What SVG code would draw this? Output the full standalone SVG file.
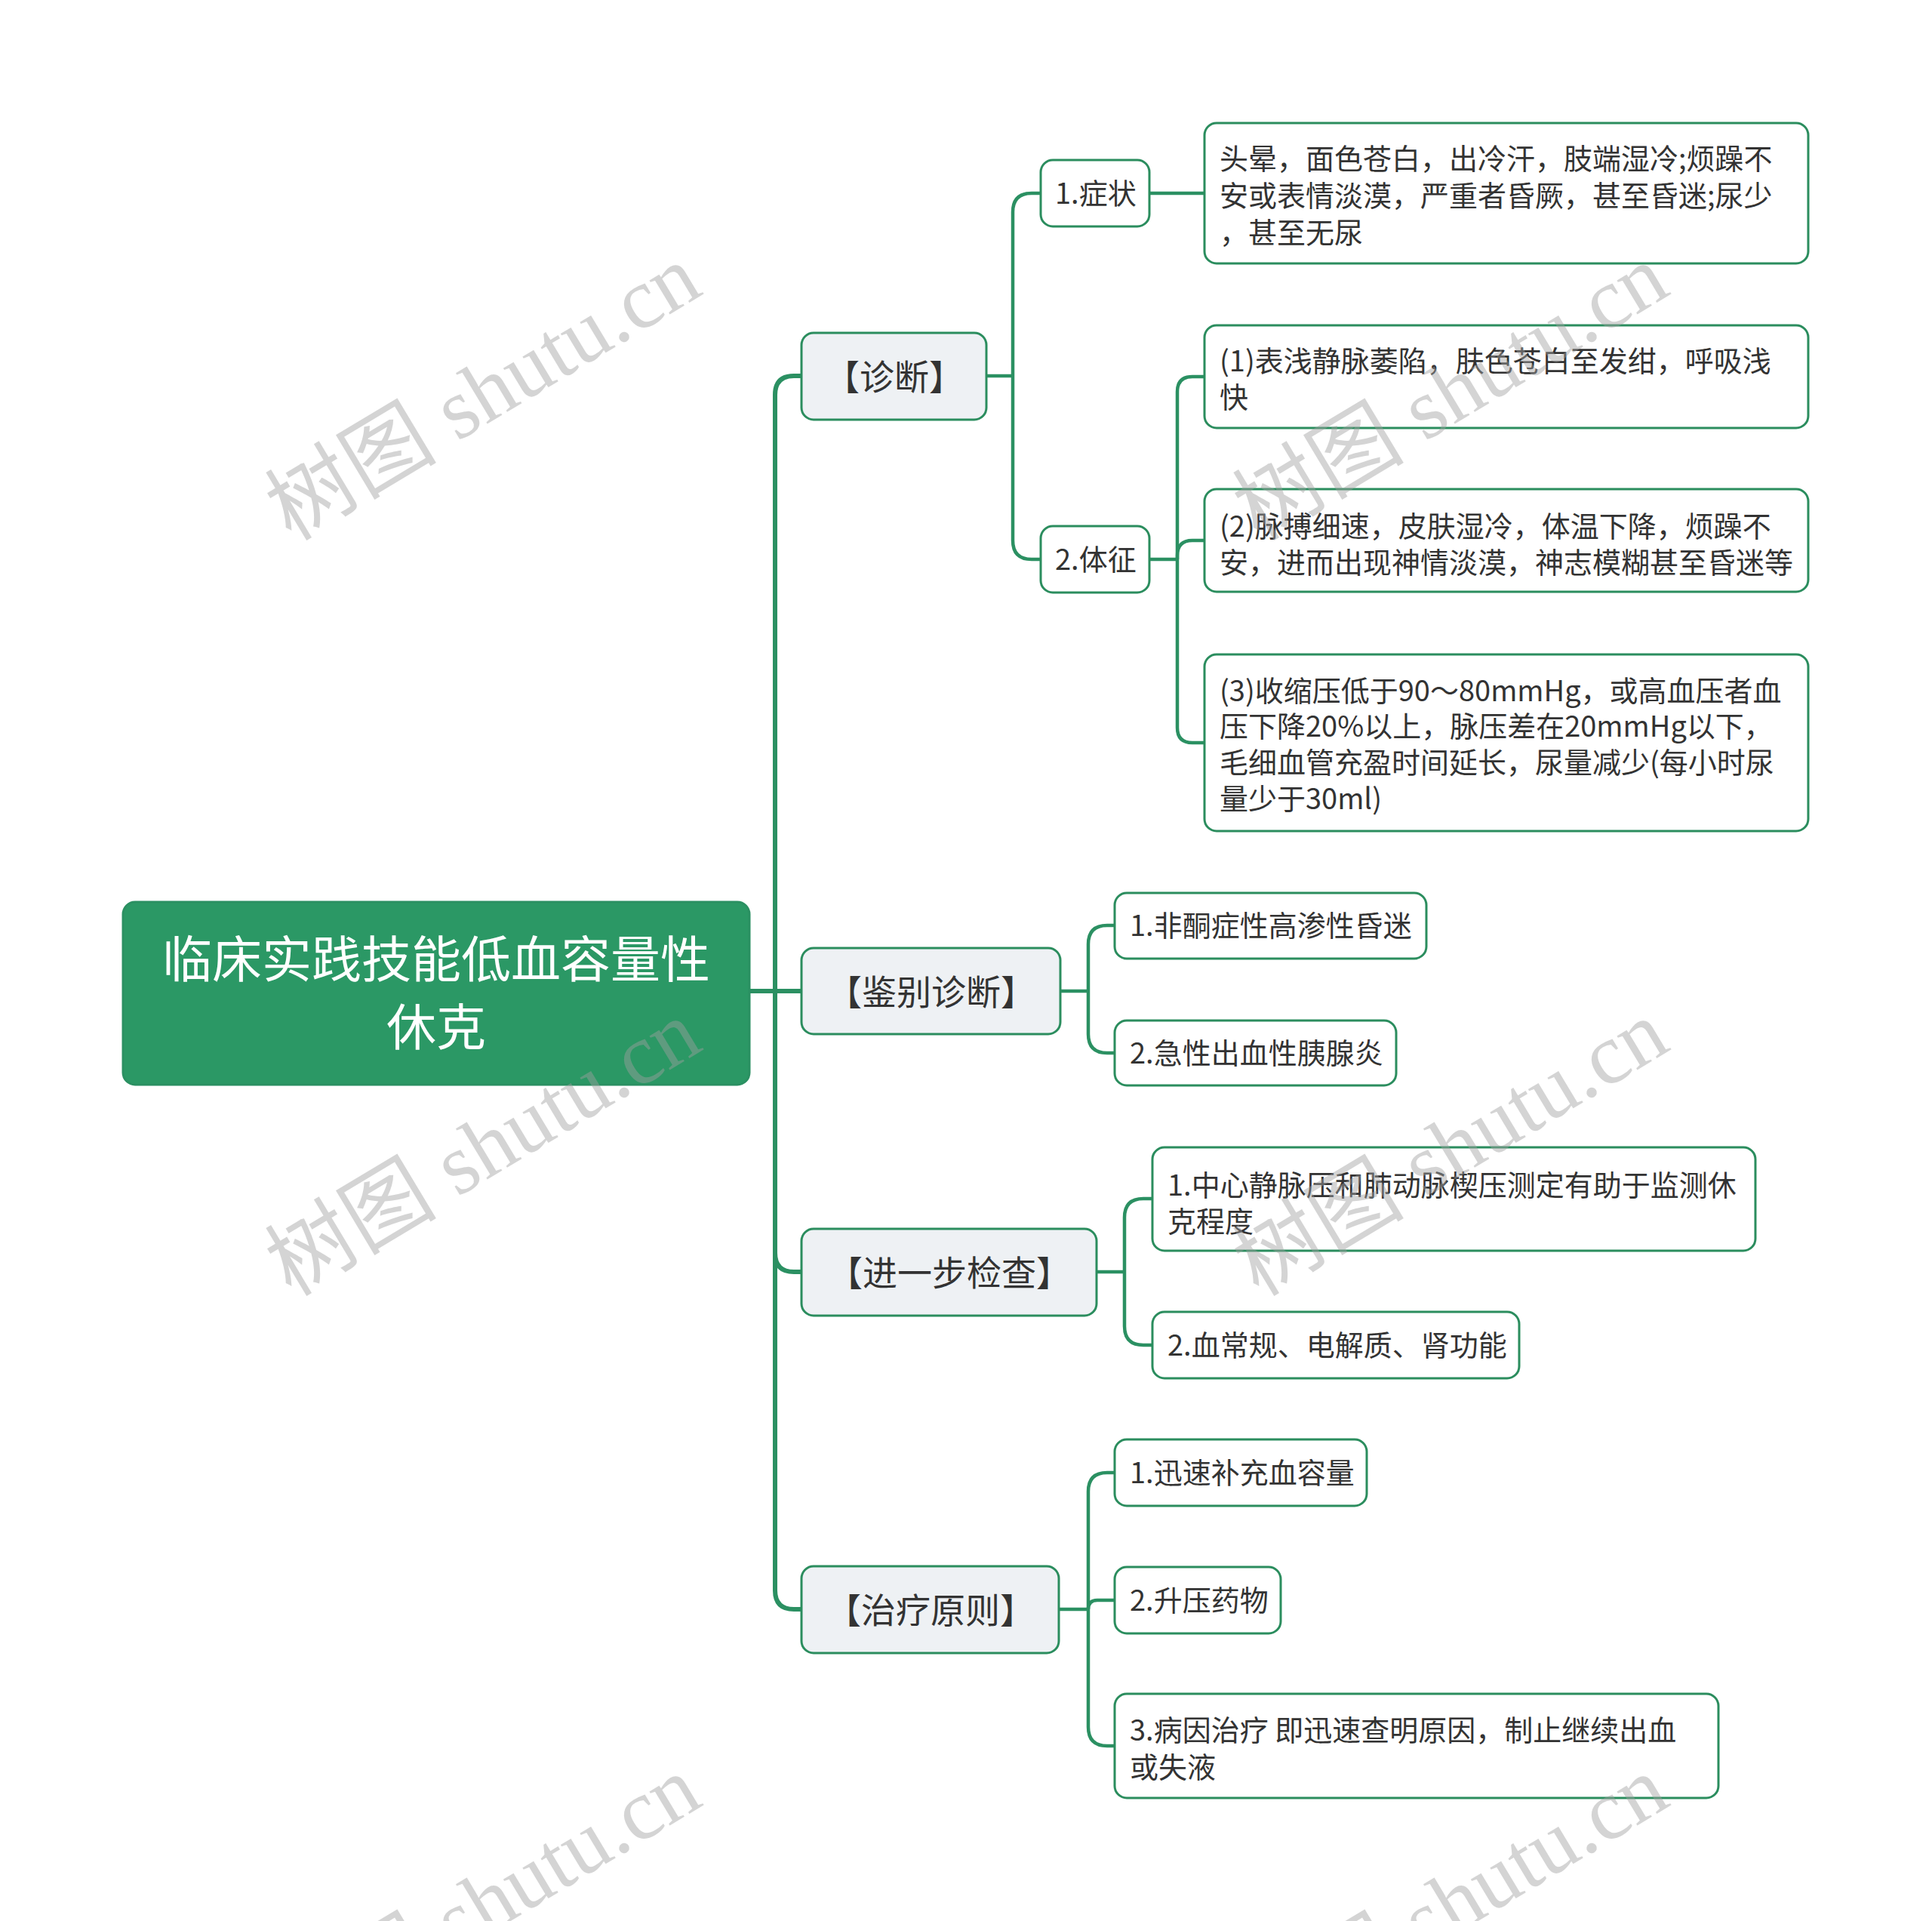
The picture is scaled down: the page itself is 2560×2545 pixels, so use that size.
<svg xmlns="http://www.w3.org/2000/svg" width="2560" height="2545" viewBox="0 0 2560 2545">
<style>
.root{fill:#2b9865;stroke:#2b9062;stroke-width:3}
.l1{fill:#eef1f4;stroke:#2b8d5e;stroke-width:3}
.lf{fill:#ffffff;stroke:#2b8d5e;stroke-width:3}
.t{font-family:"Noto Sans CJK SC","Noto Sans",sans-serif;fill:#333333}
.rt{font-family:"Noto Sans CJK SC","Noto Sans",sans-serif;fill:#ffffff;font-size:66px}
.t1{font-size:46px}
.t2{font-size:38px}
.c1{fill:none;stroke:#2b9062;stroke-width:6}
.c2{fill:none;stroke:#2b9062;stroke-width:4.5}
.wm{font-family:"Liberation Serif","Noto Sans CJK SC",serif;font-size:114px;fill:#a0a0a0;fill-opacity:0.45}
</style>
<rect width="2560" height="2545" fill="#ffffff"/>
<g id="connectors">
<path class="c1" d="M 993 1313 H 1027"/>
<path class="c1" d="M 1027 1313 V 523 Q 1027 498 1052 498 H 1062"/>
<path class="c1" d="M 1027 1313 H 1062"/>
<path class="c1" d="M 1027 1313 V 1660 Q 1027 1685 1052 1685 H 1062"/>
<path class="c1" d="M 1027 1313 V 2107 Q 1027 2132 1052 2132 H 1062"/>
<path class="c2" d="M 1307 498 H 1342"/>
<path class="c2" d="M 1342 498 V 281 Q 1342 256 1367 256 H 1379"/>
<path class="c2" d="M 1342 498 V 716 Q 1342 741 1367 741 H 1379"/>
<path class="c2" d="M 1523 256 H 1596"/>
<path class="c2" d="M 1523 741 H 1560"/>
<path class="c2" d="M 1560 741 V 519 Q 1560 499 1580 499 H 1596"/>
<path class="c2" d="M 1560 741 V 736 Q 1560 716 1580 716 H 1596"/>
<path class="c2" d="M 1560 741 V 964 Q 1560 984 1580 984 H 1596"/>
<path class="c2" d="M 1405 1313 H 1442"/>
<path class="c2" d="M 1442 1313 V 1251 Q 1442 1226 1467 1226 H 1477"/>
<path class="c2" d="M 1442 1313 V 1370 Q 1442 1395 1467 1395 H 1477"/>
<path class="c2" d="M 1453 1685 H 1490"/>
<path class="c2" d="M 1490 1685 V 1613 Q 1490 1588 1515 1588 H 1527"/>
<path class="c2" d="M 1490 1685 V 1757 Q 1490 1782 1515 1782 H 1527"/>
<path class="c2" d="M 1403 2132 H 1442"/>
<path class="c2" d="M 1442 2132 V 1976 Q 1442 1951 1467 1951 H 1477"/>
<path class="c2" d="M 1442 2132 Q 1442 2120 1454 2120 H 1477"/>
<path class="c2" d="M 1442 2132 V 2288 Q 1442 2313 1467 2313 H 1477"/>
</g>
<g id="root">
<rect class="root" x="163" y="1195" width="830" height="242" rx="16"/>
<text class="rt" x="578" y="1295" text-anchor="middle">临床实践技能低血容量性</text>
<text class="rt" x="578" y="1385" text-anchor="middle">休克</text>
</g>
<g id="n-zhenduan">
<rect class="l1" x="1062" y="441" width="245" height="115" rx="16"/>
<text class="t t1" x="1185" y="516" text-anchor="middle">【诊断】</text>
</g>
<g id="n-jianbie">
<rect class="l1" x="1062" y="1256" width="343" height="114" rx="16"/>
<text class="t t1" x="1234" y="1331" text-anchor="middle">【鉴别诊断】</text>
</g>
<g id="n-jinyibu">
<rect class="l1" x="1062" y="1628" width="391" height="115" rx="16"/>
<text class="t t1" x="1258" y="1703" text-anchor="middle">【进一步检查】</text>
</g>
<g id="n-zhiliao">
<rect class="l1" x="1062" y="2075" width="341" height="115" rx="16"/>
<text class="t t1" x="1233" y="2150" text-anchor="middle">【治疗原则】</text>
</g>
<g id="n-zhengzhuang">
<rect class="lf" x="1379" y="212" width="144" height="88" rx="16"/>
<text class="t t2" x="1398" y="270">1.症状</text>
</g>
<g id="n-tizheng">
<rect class="lf" x="1379" y="697" width="144" height="88" rx="16"/>
<text class="t t2" x="1398" y="755">2.体征</text>
</g>
<g id="n-zz-text">
<rect class="lf" x="1596" y="163" width="800" height="186" rx="16"/>
<text class="t t2" x="1616" y="224">头晕，面色苍白，出冷汗，肢端湿冷;烦躁不</text>
<text class="t t2" x="1616" y="273">安或表情淡漠，严重者昏厥，甚至昏迷;尿少</text>
<text class="t t2" x="1616" y="322">，甚至无尿</text>
</g>
<g id="n-tz1">
<rect class="lf" x="1596" y="431" width="800" height="136" rx="16"/>
<text class="t t2" x="1616" y="492">(1)表浅静脉萎陷，肤色苍白至发绀，呼吸浅</text>
<text class="t t2" x="1616" y="540">快</text>
</g>
<g id="n-tz2">
<rect class="lf" x="1596" y="648" width="800" height="136" rx="16"/>
<text class="t t2" x="1616" y="711">(2)脉搏细速，皮肤湿冷，体温下降，烦躁不</text>
<text class="t t2" x="1616" y="759">安，进而出现神情淡漠，神志模糊甚至昏迷等</text>
</g>
<g id="n-tz3">
<rect class="lf" x="1596" y="867" width="800" height="234" rx="16"/>
<text class="t t2" x="1616" y="929">(3)收缩压低于90～80mmHg，或高血压者血</text>
<text class="t t2" x="1616" y="976">压下降20%以上，脉压差在20mmHg以下，</text>
<text class="t t2" x="1616" y="1024">毛细血管充盈时间延长，尿量减少(每小时尿</text>
<text class="t t2" x="1616" y="1072">量少于30ml)</text>
</g>
<g id="n-jb1">
<rect class="lf" x="1477" y="1183" width="413" height="87" rx="16"/>
<text class="t t2" x="1497" y="1240">1.非酮症性高渗性昏迷</text>
</g>
<g id="n-jb2">
<rect class="lf" x="1477" y="1352" width="373" height="86" rx="16"/>
<text class="t t2" x="1497" y="1409">2.急性出血性胰腺炎</text>
</g>
<g id="n-jc1">
<rect class="lf" x="1527" y="1520" width="799" height="137" rx="16"/>
<text class="t t2" x="1547" y="1584">1.中心静脉压和肺动脉楔压测定有助于监测休</text>
<text class="t t2" x="1547" y="1632">克程度</text>
</g>
<g id="n-jc2">
<rect class="lf" x="1527" y="1738" width="486" height="88" rx="16"/>
<text class="t t2" x="1547" y="1796">2.血常规、电解质、肾功能</text>
</g>
<g id="n-zl1">
<rect class="lf" x="1477" y="1907" width="334" height="88" rx="16"/>
<text class="t t2" x="1497" y="1965">1.迅速补充血容量</text>
</g>
<g id="n-zl2">
<rect class="lf" x="1477" y="2076" width="220" height="88" rx="16"/>
<text class="t t2" x="1497" y="2134">2.升压药物</text>
</g>
<g id="n-zl3">
<rect class="lf" x="1477" y="2244" width="800" height="138" rx="16"/>
<text class="t t2" x="1497" y="2306">3.病因治疗 即迅速查明原因，制止继续出血</text>
<text class="t t2" x="1497" y="2355">或失液</text>
</g>
<g id="watermarks">
<text class="wm" transform="translate(660,553) rotate(-31)" text-anchor="middle">树图 shutu.cn</text>
<text class="wm" transform="translate(660,1554) rotate(-31)" text-anchor="middle">树图 shutu.cn</text>
<text class="wm" transform="translate(660,2555) rotate(-31)" text-anchor="middle">树图 shutu.cn</text>
<text class="wm" transform="translate(1942,553) rotate(-31)" text-anchor="middle">树图 shutu.cn</text>
<text class="wm" transform="translate(1942,1554) rotate(-31)" text-anchor="middle">树图 shutu.cn</text>
<text class="wm" transform="translate(1942,2555) rotate(-31)" text-anchor="middle">树图 shutu.cn</text>
</g>
</svg>
